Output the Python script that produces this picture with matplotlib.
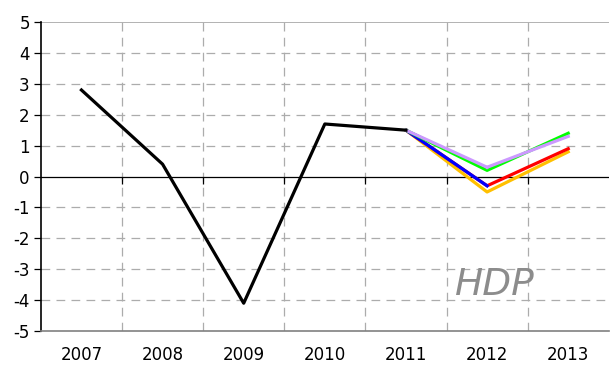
import numpy as np
import matplotlib.pyplot as plt

# data
years = ["2007", "2008", "2009", "2010", "2011", "2012", "2013"]
actual = [2.8, 0.4, -4.1, 1.7, 1.5]
forecast_yellow = [1.5, -0.5, 0.8]
forecast_red = [1.5, -0.3, 0.9]
forecast_blue = [1.5, -0.3]
forecast_green = [1.5, 0.2, 1.4]
forecast_purple = [1.5, 0.3, 1.3]
y_ticks = [-5, -4, -3, -2, -1, 0, 1, 2, 3, 4, 5]

fig = plt.figure(figsize=(6.1, 3.67), dpi=100)
ax = fig.add_axes([0.067, 0.098, 0.931, 0.842])

x = np.arange(len(years))
fx = x[4:]

# dashed grid (horizontal at integers, vertical between categories)
for v in y_ticks:
    if v in (-5, 0, 5):
        continue
    ax.axhline(v, color="#acacac", lw=0.9, ls=(0, (7, 5)), zorder=1)
for b in x[:-1] + 0.5:
    ax.axvline(b, color="#acacac", lw=0.9, ls=(0, (7, 5)), zorder=1)
ax.axhline(5, color="#a6a6a6", lw=1.2, zorder=1)
ax.axhline(0, color="black", lw=0.9, zorder=2)
# small tick marks hanging off the zero line
ax.plot(x[:-1] + 0.5, np.zeros(len(x) - 1), ls="none", marker=3,
        ms=5, mew=0.9, color="black", zorder=2)

ax.plot(x[:5], actual, color="black", lw=2.3, zorder=5)
ax.plot(fx, forecast_yellow, color="#ffc000", lw=2.3, zorder=3)
ax.plot(fx, forecast_red, color="#ff0000", lw=2.3, zorder=3)
ax.plot(fx[:2], forecast_blue, color="#0000ff", lw=2.3, zorder=3)
ax.plot(fx, forecast_green, color="#00ff00", lw=2.3, zorder=3)
ax.plot(fx[:2], forecast_purple[:2], color="#cc99ff", lw=2.3, zorder=4)
ax.plot(fx[1:], forecast_purple[1:], color="#cc99ff", lw=2.3, zorder=3)

ax.text(5.1, -3.5, "HDP", fontsize=27, style="italic", color="#8c8c8c",
        ha="center", va="center", zorder=6)

ax.set_xlim(-0.5, 6.5)
ax.set_ylim(-5, 5)
ax.set_yticks(y_ticks)
ax.set_yticklabels([str(v) for v in y_ticks])
ax.set_xticks(x)
ax.set_xticklabels(years)
ax.tick_params(axis="y", length=5, width=0.9, labelsize=12, pad=3)
ax.tick_params(axis="x", length=0, labelsize=12, pad=11)

for s in ["top", "right"]:
    ax.spines[s].set_visible(False)
ax.spines["bottom"].set_color("#808080")
ax.spines["bottom"].set_linewidth(1.2)
ax.spines["left"].set_linewidth(1.2)

fig.savefig("out.png", dpi=100)
